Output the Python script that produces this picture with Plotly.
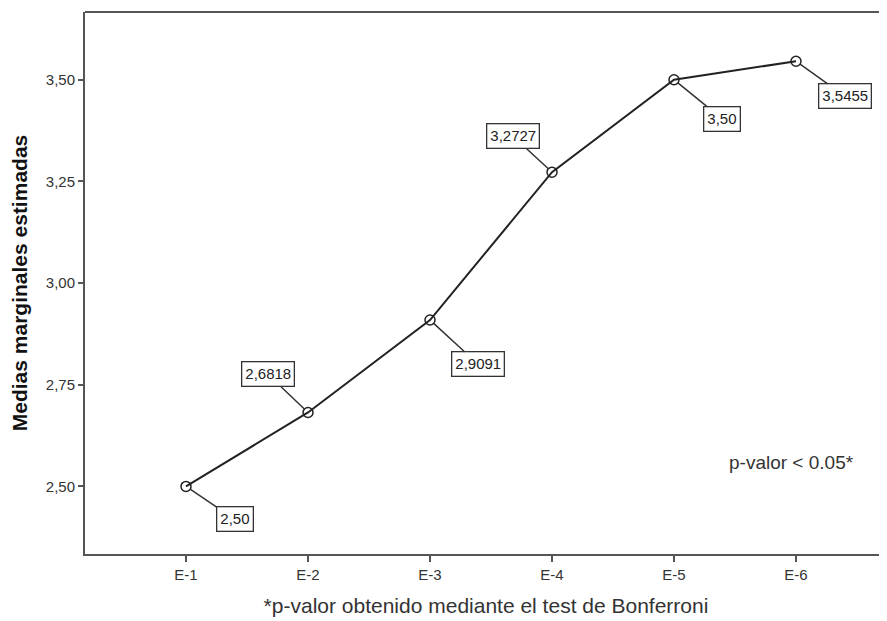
import plotly.graph_objects as go

categories = ["E-1", "E-2", "E-3", "E-4", "E-5", "E-6"]
values = [2.50, 2.6818, 2.9091, 3.2727, 3.50, 3.5455]
labels = ["2,50", "2,6818", "2,9091", "3,2727", "3,50", "3,5455"]
ytick_vals = [2.50, 2.75, 3.00, 3.25, 3.50]
ytick_text = ["2,50", "2,75", "3,00", "3,25", "3,50"]

# label box offsets (pixels) relative to the point
offsets = [(49, 33), (-40, -38), (48, 44), (-39, -36), (48, 39), (49, 35)]

xs = list(range(len(categories)))

fig = go.Figure()
fig.add_trace(go.Scatter(
    x=xs, y=values, mode="lines+markers",
    line=dict(color="#222222", width=2),
    marker=dict(symbol="circle-open", size=10, color="#222222", line=dict(width=1.5)),
    hoverinfo="skip", showlegend=False,
))

for x, y, t, (ax, ay) in zip(xs, values, labels, offsets):
    fig.add_annotation(
        x=x, y=y, xref="x", yref="y", text=t,
        showarrow=True, arrowhead=0, arrowwidth=1.5, arrowcolor="#333333",
        ax=ax, ay=ay, standoff=5,
        bordercolor="#333333", borderwidth=1.3, borderpad=3, bgcolor="white",
        font=dict(family="Liberation Sans, Arial", size=15, color="#222222"),
    )

fig.add_annotation(
    x=0.8815, y=0.168, xref="paper", yref="paper", text="p-valor < 0.05*",
    showarrow=False, xanchor="center", yanchor="middle",
    font=dict(family="Liberation Sans, Arial", size=19, color="#333333"),
)

fig.update_layout(
    width=879, height=613,
    margin=dict(l=77, r=0, t=4, b=67),
    paper_bgcolor="white", plot_bgcolor="white",
    font=dict(family="Liberation Sans, Arial", color="#333333"),
    xaxis=dict(
        range=[-0.828, 5.746], tickvals=xs, ticktext=categories,
        showgrid=False, zeroline=False,
        showline=True, linecolor="#555555", linewidth=2, mirror=False,
        ticks="outside", ticklen=6, tickwidth=2, tickcolor="#555555",
        tickfont=dict(size=15, color="#333333"),
        title=dict(text="*p-valor obtenido mediante el test de Bonferroni",
                   font=dict(size=21, color="#333333"), standoff=16),
    ),
    yaxis=dict(
        range=[2.3338, 3.6665], tickvals=ytick_vals, ticktext=ytick_text,
        showgrid=False, zeroline=False,
        showline=True, linecolor="#555555", linewidth=2, mirror=False,
        ticks="outside", ticklen=5, tickwidth=2, tickcolor="#555555",
        tickfont=dict(size=15, color="#333333"),
        title=dict(text="<b>Medias marginales estimadas</b>",
                   font=dict(size=21, color="#111111"), standoff=13),
    ),
)

# top frame line
fig.add_shape(type="line", xref="paper", yref="paper", x0=0, x1=1, y0=1, y1=1,
              line=dict(color="#555555", width=2))

fig.write_html("out.html")
